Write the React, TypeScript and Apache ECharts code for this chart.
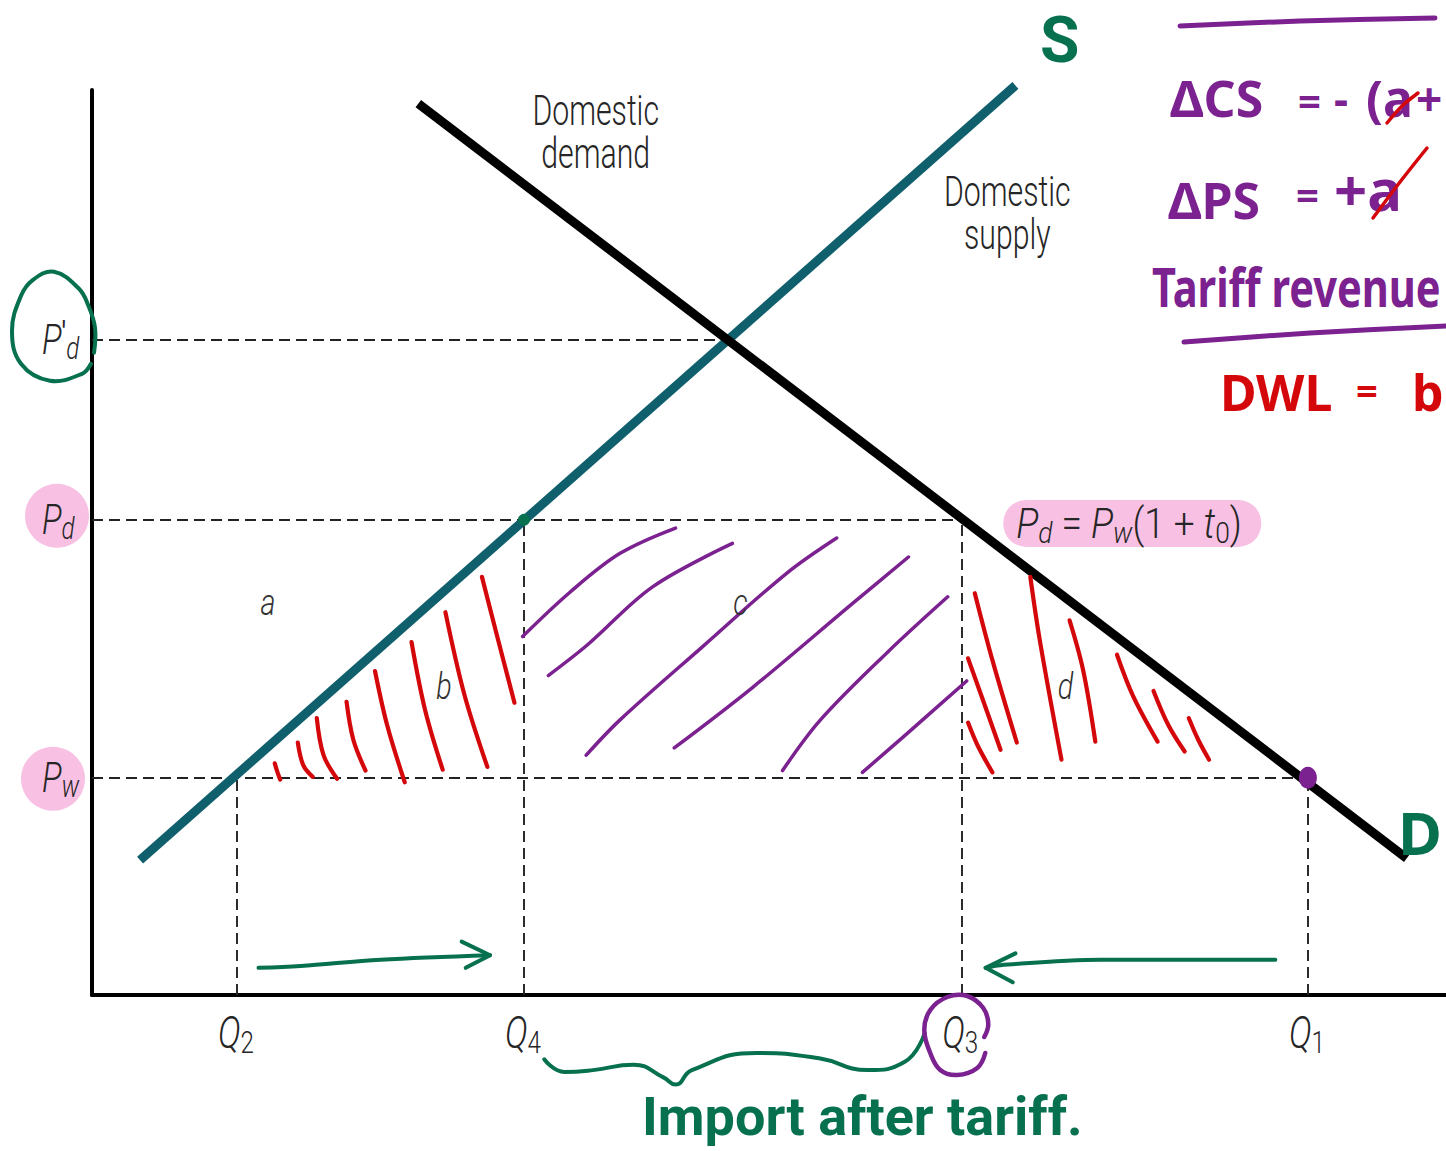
import { useEffect, useRef } from "react";
import * as echarts from "echarts";

// Quantities marked on the horizontal axis
const quantitySubs = ["2", "4", "3", "1"];
const quantityValues = [10.7, 31.9, 64.2, 89.8];

// Prices marked on the vertical axis: world price, tariff price, autarky price
const priceWorld = 24;
const priceTariff = 52.5;
const priceAutarky = 72.4;
const autarkyQuantity = 47.1;

// Curve end points [quantity, price]
const supplyCurve = [
  [3.55, 14.9],
  [68.2, 100.5],
];
const demandCurve = [
  [24.1, 98.5],
  [97.1, 15.1],
];

// Curve captions [quantity, price] of their centres
const captionTexts = ["Domestic\ndemand", "Domestic\nsupply"];
const captionPoints = [
  [37.2, 95.3],
  [67.6, 86.4],
];

// Welfare regions
const regionNames = ["a", "b", "c", "d"];
const regionPoints = [
  [13.0, 43.3],
  [26.0, 34.1],
  [47.9, 43.3],
  [71.9, 34.1],
];

// Hand-drawn hatching of the deadweight-loss triangles (b, d) and revenue (c)
const hatchB = [
  [[13.5, 25.6], [13.7, 24.6], [13.9, 23.8]],
  [[15.2, 27.9], [15.6, 25.4], [16.3, 24.1]],
  [[16.6, 30.6], [17.1, 26.5], [18.1, 23.9]],
  [[18.8, 32.4], [19.3, 28.2], [20.2, 24.8]],
  [[20.9, 35.8], [21.8, 29.8], [23.1, 23.5]],
  [[23.6, 39.0], [24.6, 31.5], [25.9, 24.9]],
  [[26.1, 42.3], [27.5, 33.2], [29.2, 25.2]],
  [[28.8, 46.2], [30.0, 39.2], [31.2, 32.3]],
];
const hatchC = [
  [[31.8, 39.6], [35.3, 44.5], [39.0, 48.8], [43.1, 51.6]],
  [[33.7, 35.3], [36.6, 38.7], [41.4, 45.1], [47.3, 49.9]],
  [[36.5, 26.5], [39.0, 30.4], [45.1, 38.5], [51.3, 46.6], [55.0, 50.5]],
  [[43.0, 27.3], [48.8, 34.0], [56.2, 43.3], [60.3, 48.4]],
  [[51.0, 24.8], [53.8, 30.4], [58.7, 37.8], [63.2, 44.0]],
  [[56.9, 24.6], [59.9, 28.5], [64.6, 34.7]],
];
const hatchD = [
  [[65.2, 44.4], [66.5, 37.0], [68.3, 27.9]],
  [[64.7, 37.2], [65.8, 32.6], [67.1, 27.1]],
  [[64.7, 30.1], [65.4, 27.6], [66.5, 24.6]],
  [[69.3, 46.2], [70.0, 39.2], [71.6, 26.0]],
  [[72.2, 41.4], [73.2, 35.9], [74.1, 28.0]],
  [[75.7, 37.6], [76.9, 33.0], [78.7, 28.0]],
  [[78.4, 33.6], [79.5, 29.8], [80.7, 26.9]],
  [[81.0, 30.6], [81.7, 28.2], [82.5, 26.0]],
];

// Green arrows showing how the quantities move, and the import brace
const arrowLeft = [[12.3, 3.0], [15.4, 3.2], [21.3, 3.9], [29.4, 4.4]];
const arrowLeftHead = [[27.3, 5.9], [29.4, 4.4], [27.6, 3.0]];
const arrowRight = [[87.4, 3.9], [74.5, 3.9], [67.1, 3.3], [66.0, 3.0]];
const arrowRightHead = [[68.2, 4.6], [66.0, 3.0], [68.0, 1.4]];
const importBrace = [
  [33.4, -7.1], [34.9, -8.5], [37.0, -8.3], [40.0, -7.7], [42.2, -9.1], [43.1, -9.9],
  [44.3, -8.3], [49.1, -6.4], [53.7, -7.0], [57.3, -8.3], [60.0, -7.4], [61.5, -4.2],
];

const COND = "Roboto, 'Noto Sans', sans-serif";
const HAND = "'Noto Sans', 'Open Sans', sans-serif";
const HAND_COMPACT = "Roboto, 'Noto Sans', sans-serif";
const GREEN = "#07704f";
const PURPLE = "#7b2190";
const RED = "#d4070b";
const PINK = "#f8c1e3";
const TEAL = "#0f5f6d";
const INK = "#262626";

const strokeSeries = (pts: number[][], color: string, width: number, smooth = 0.35) => ({
  type: "line",
  data: pts,
  smooth,
  symbol: "none",
  clip: false,
  silent: true,
  z: 4,
  lineStyle: { color, width, cap: "round", join: "round" },
});

export default function App() {
  const ref = useRef<HTMLDivElement>(null);

  useEffect(() => {
    if (!ref.current) return;
    const chart = echarts.init(ref.current, null, { renderer: "svg" });

    const [q2, q4, q3, q1] = quantityValues;
    const guides = [
      [[0, priceAutarky], [autarkyQuantity, priceAutarky]],
      [[0, priceTariff], [q3, priceTariff]],
      [[0, priceWorld], [q1, priceWorld]],
      [[q2, 0], [q2, priceWorld]],
      [[q4, 0], [q4, priceTariff]],
      [[q3, 0], [q3, priceTariff]],
      [[q1, 0], [q1, priceWorld]],
    ];

    chart.setOption({
      animation: false,
      backgroundColor: "#ffffff",
      grid: { left: 92, right: 0, top: 90, bottom: 156 },
      xAxis: {
        type: "value",
        min: 0,
        max: 100,
        axisLine: { lineStyle: { color: "#000", width: 4 } },
        axisTick: { show: false },
        axisLabel: { show: false },
        splitLine: { show: false },
      },
      yAxis: {
        type: "value",
        min: 0,
        max: 100,
        axisLine: { lineStyle: { color: "#000", width: 4 } },
        axisTick: { show: false },
        axisLabel: { show: false },
        splitLine: { show: false },
      },
      series: [
        {
          type: "lines",
          coordinateSystem: "cartesian2d",
          silent: true,
          z: 2,
          data: guides.map((c) => ({ coords: c })),
          lineStyle: { color: "#222", width: 1.9, type: [11, 6], opacity: 1 },
        },
        {
          type: "line",
          name: "Domestic supply",
          data: supplyCurve,
          symbol: "none",
          clip: false,
          z: 3,
          lineStyle: { color: TEAL, width: 9, cap: "butt" },
        },
        {
          type: "line",
          name: "Domestic demand",
          data: demandCurve,
          symbol: "none",
          clip: false,
          z: 3,
          lineStyle: { color: "#000", width: 9, cap: "butt" },
        },
        ...hatchB.map((s) => strokeSeries(s, RED, 4.2)),
        ...hatchD.map((s) => strokeSeries(s, RED, 4.2)),
        ...hatchC.map((s) => strokeSeries(s, PURPLE, 3.5)),
        strokeSeries(arrowLeft, GREEN, 4),
        strokeSeries(arrowLeftHead, GREEN, 4, 0),
        strokeSeries(arrowRight, GREEN, 4),
        strokeSeries(arrowRightHead, GREEN, 4, 0),
        strokeSeries(importBrace, GREEN, 4, 0.5),
        {
          type: "scatter",
          data: [[q4, priceTariff]],
          symbolSize: 12,
          itemStyle: { color: GREEN, opacity: 1 },
          z: 5,
        },
        {
          type: "scatter",
          data: [[q1, priceWorld]],
          symbol: "circle",
          symbolSize: [18, 22],
          itemStyle: { color: PURPLE, opacity: 1 },
          z: 5,
        },
      ],
    });

    const px = (q: number, p: number) => chart.convertToPixel({ gridIndex: 0 }, [q, p]) as number[];

    const richSub = (main: string, sub: string, italicSub: boolean, size = 42, prime = false) => ({
      text: prime ? `{m|${main}}{p|′}{s|${sub}}` : `{m|${main}}{s|${sub}}`,
      rich: {
        m: {
          fontFamily: COND,
          fontWeight: 300,
          fontStyle: "italic",
          fontSize: size,
          lineHeight: size + 6,
          fill: INK,
          verticalAlign: "middle",
        },
        p: {
          fontFamily: COND,
          fontSize: 34,
          lineHeight: size + 6,
          fill: INK,
          verticalAlign: "top",
        },
        s: {
          fontFamily: COND,
          fontWeight: 300,
          fontStyle: italicSub ? "italic" : "normal",
          fontSize: 31,
          lineHeight: 28,
          fill: INK,
          verticalAlign: "bottom",
        },
      },
    });

    const graphics: any[] = [];

    // curve captions and region letters
    captionTexts.forEach((t, i) => {
      const [x, y] = px(captionPoints[i][0], captionPoints[i][1]);
      graphics.push({
        type: "text",
        z: 10,
        x,
        y,
        scaleX: 0.72,
        style: {
          text: t,
          fontFamily: COND,
          fontWeight: 300,
          fontSize: 42,
          lineHeight: 43,
          fill: INK,
          align: "center",
          verticalAlign: "middle",
        },
      });
    });
    regionNames.forEach((n, i) => {
      const [x, y] = px(regionPoints[i][0], regionPoints[i][1]);
      graphics.push({
        type: "text",
        z: 10,
        x,
        y,
        scaleX: 0.8,
        style: {
          text: n,
          fontFamily: COND,
          fontWeight: 300,
          fontStyle: "italic",
          fontSize: 36,
          fill: "#333",
          align: "center",
          verticalAlign: "middle",
        },
      });
    });

    // highlighter marks around the price labels
    const [axX, yPd] = px(0, priceTariff);
    const yPw = px(0, priceWorld)[1];
    const yPa = px(0, priceAutarky)[1];
    graphics.push(
      { type: "circle", z: 1, shape: { cx: axX - 35, cy: yPd - 4, r: 32 }, style: { fill: PINK } },
      { type: "circle", z: 1, shape: { cx: axX - 39, cy: yPw + 1, r: 32 }, style: { fill: PINK } }
    );
    const loop = [
      [2, 13], [3, -12], [-4, -35], [-13, -51], [-38, -68], [-59, -60], [-71, -44],
      [-80, -9], [-71, 24], [-42, 41], [-10, 34], [-1, 24],
    ];
    graphics.push({
      type: "polyline",
      z: 12,
      shape: { points: loop.map(([dx, dy]) => [axX + dx, yPa + dy]), smooth: 0.4 },
      style: { stroke: GREEN, lineWidth: 4, fill: null, lineCap: "round" },
    });

    // price labels
    const priceLabels = [
      { y: yPa, sub: "d", prime: true },
      { y: yPd, sub: "d", prime: false },
      { y: yPw, sub: "w", prime: false },
    ];
    priceLabels.forEach(({ y, sub, prime }) => {
      graphics.push({
        type: "text",
        z: 10,
        x: axX - 50,
        y: y,
        scaleX: 0.78,
        style: { ...richSub("P", sub, true, 42, prime), align: "left", verticalAlign: "middle" },
      });
    });

    // quantity labels
    quantityValues.forEach((q, i) => {
      const [x, y0] = px(q, 0);
      graphics.push({
        type: "text",
        z: 10,
        x: x - 1,
        y: y0 + 38,
        scaleX: 0.78,
        style: { ...richSub("Q", quantitySubs[i], false, 44), align: "center", verticalAlign: "middle" },
      });
    });

    // purple ring around Q3
    const [x3, y3] = px(q3, 0);
    const ring = [
      [24, 58], [16, 73], [-4, 80], [-21, 75], [-31, 58], [-37, 35], [-31, 15], [-14, 2],
      [6, 1], [22, 13], [27, 29], [23, 42],
    ];
    graphics.push({
      type: "polyline",
      z: 12,
      shape: { points: ring.map(([dx, dy]) => [x3 + dx, y3 + dy]), smooth: 0.4 },
      style: { stroke: PURPLE, lineWidth: 4.5, fill: null, lineCap: "round" },
    });

    // tariff price equation with highlighter
    const [xe, ye] = px(q3, priceTariff);
    graphics.push({
      type: "rect",
      z: 1,
      shape: { x: xe + 42, y: ye - 20, width: 258, height: 47, r: 23 },
      style: { fill: PINK },
    });
    const eqMain = { fontFamily: COND, fontWeight: 300, fontSize: 42, lineHeight: 48, fill: INK, verticalAlign: "middle" };
    const eqIt = { ...eqMain, fontStyle: "italic" };
    const eqSub = { fontFamily: COND, fontWeight: 300, fontSize: 30, lineHeight: 28, fill: INK, verticalAlign: "bottom" };
    graphics.push({
      type: "text",
      z: 10,
      x: xe + 55,
      y: ye + 4,
      scaleX: 0.88,
      style: {
        text: "{i|P}{si|d}{n| = }{i|P}{si|w}{n|(1 + }{i|t}{s|0}{n|)}",
        align: "left",
        verticalAlign: "middle",
        rich: { i: eqIt, n: eqMain, s: eqSub, si: { ...eqSub, fontStyle: "italic" } },
      },
    });

    // handwritten notes (x = left edge, y = vertical centre of the line box)
    const hand = (
      text: string,
      x: number,
      y: number,
      size: number,
      color: string,
      extra: any = {},
      family = HAND
    ) => ({
      type: "text",
      z: 12,
      x,
      y,
      ...extra,
      style: {
        text,
        fontFamily: family,
        fontWeight: "bold",
        fontSize: size,
        lineHeight: Math.round(size * 0.9),
        fill: color,
        align: "left",
        verticalAlign: "middle",
      },
    });
    const penLine = (pts: number[][], color: string, w = 5) => ({
      type: "polyline",
      z: 12,
      shape: { points: pts, smooth: 0.3 },
      style: { stroke: color, lineWidth: w, fill: null, lineCap: "round" },
    });

    graphics.push(
      hand("S", 1040, 40, 64, GREEN, {}, HAND_COMPACT),
      hand("D", 1398, 832, 60, GREEN),
      hand("Import after tariff.", 642, 1116, 54, GREEN, { scaleX: 1.0 }, HAND_COMPACT),
      penLine([[1180, 26], [1300, 21], [1435, 18]], PURPLE),
      hand("ΔCS", 1170, 98, 50, PURPLE),
      hand("=", 1298, 100, 40, PURPLE),
      hand("-", 1334, 98, 44, PURPLE),
      hand("(a", 1366, 98, 50, PURPLE),
      hand("+", 1416, 98, 46, PURPLE),
      penLine([[1387, 123], [1402, 106], [1418, 93]], RED, 3.5),
      hand("ΔPS", 1168, 200, 50, PURPLE),
      hand("=", 1296, 194, 40, PURPLE),
      hand("+a", 1334, 188, 58, PURPLE),
      penLine([[1373, 218], [1400, 182], [1427, 148]], RED, 3.5),
      hand("Tariff revenue", 1152, 286, 54, PURPLE, { scaleX: 0.77 }),
      penLine([[1184, 342], [1310, 333], [1446, 326]], PURPLE),
      hand("DWL", 1220, 392, 50, RED),
      hand("=", 1356, 390, 38, RED),
      hand("b", 1412, 392, 50, RED)
    );

    chart.setOption({ graphic: { elements: graphics } });

    return () => chart.dispose();
  }, []);

  return (
    <div
      ref={ref}
      style={{ position: "absolute", left: 0, top: 0, width: 1446, height: 1151, background: "#fff" }}
    />
  );
}
